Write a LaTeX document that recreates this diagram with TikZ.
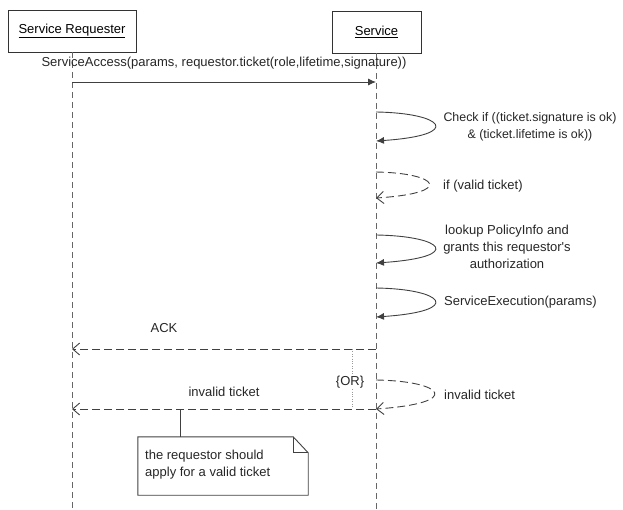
\documentclass[tikz,border=0pt]{standalone}
\usepackage{fontspec}
\setmainfont{Liberation Sans}
\newfontfamily\plainsans{Liberation Sans}[Ligatures=TeXOff]
\newcommand\straightquote{{\plainsans\char"27}}
\usetikzlibrary{arrows.meta}
\begin{document}
\begin{tikzpicture}[x=1pt,y=-1pt,
  font=\fontsize{13}{17}\selectfont,
  ln/.style={draw=black!75, line width=0.9pt},
  lifeline/.style={draw=black!60, line width=1pt, dash pattern=on 6pt off 4pt},
  head/.style={draw=black!80, line width=0.9pt, minimum height=42pt, inner sep=0pt},
  call/.style={ln, -{Latex[length=8pt,width=7pt]}},
  dcall/.style={ln, dash pattern=on 8pt off 4pt, -{Straight Barb[length=7pt,width=12pt]}},
  lbl/.style={inner sep=1pt, text=black!85},
  note/.style={draw=black!75, line width=0.9pt}
]
\useasboundingbox (0,0) rectangle (623,509);

% lifeline heads
\node[head, minimum width=128pt] (req) at (72,31) {\underline{Service Requester}};
\node[head, minimum width=89pt] (srv) at (376.5,32) {\underline{Service}};

% lifelines
\coordinate (reqEnd) at (72,509);
\coordinate (srvEnd) at (376,509);
\draw[lifeline] (72,0 |- req.south) -- (reqEnd);
\draw[lifeline] (376,0 |- srv.south) -- (srvEnd);

% points on the lifelines
\coordinate (r1) at (72,82);   \coordinate (s1) at (376,82);
\coordinate (a1) at (376,112); \coordinate (b1) at (376,141);
\coordinate (a2) at (376,172); \coordinate (b2) at (376,198);
\coordinate (a3) at (376,235); \coordinate (b3) at (376,263);
\coordinate (a4) at (376,288); \coordinate (b4) at (376,317);
\coordinate (s5) at (376,349); \coordinate (r5) at (72,349);
\coordinate (a6) at (376,380); \coordinate (b6) at (376,409);
\coordinate (r7) at (72,409);

% service request
\draw[call] (r1) -- (s1);
\node[lbl] (m1) at (224,63) {ServiceAccess(params, requestor.ticket(role,lifetime,signature))};

% self calls on the service
\draw[call] (a1) .. controls +(68,1) and +(88,-6) .. (b1);
\node[lbl, align=center, font=\fontsize{12.4}{17}\selectfont] (m2) at (530,127) {Check if ((ticket.signature is ok)\\ \& (ticket.lifetime is ok))};

\draw[dcall] (a2) .. controls +(62,1) and +(80,-5) .. (b2);
\node[lbl, anchor=west] (m3) at (442,186) {if (valid ticket)};

\draw[call] (a3) .. controls +(68,1) and +(88,-6) .. (b3);
\node[lbl, align=center] (m4) at (507,247) {lookup PolicyInfo and\\ grants this requestor\straightquote s\\ authorization};

\draw[call] (a4) .. controls +(68,1) and +(88,-6) .. (b4);
\node[lbl, anchor=west] (m5) at (443,302) {ServiceExecution(params)};

% reply
\draw[dcall] (s5) -- (r5);
\node[lbl] (m6) at (164,328) {ACK};

% alternative branch
\node[lbl] (or) at (350,382) {\{OR\}};
\coordinate (orTop) at (352,349);
\coordinate (orBot) at (352,408);
\draw[black!40, dotted] (orTop) -- (orTop |- or.north);
\draw[black!40, dotted] (orBot |- or.south) -- (orBot);

\draw[dcall] (a6) .. controls +(68,1) and +(88,-6) .. (b6);
\node[lbl, anchor=west] (m7) at (443,395) {invalid ticket};

\draw[dcall] (b6) -- (r7);
\node[lbl] (m8) at (224,392) {invalid ticket};

% note
\node[minimum width=170pt, minimum height=58pt, inner sep=0pt] (nt) at (223,466) {};
\node[anchor=north west, align=left, lbl, inner sep=0pt] (ntx) at (145,450) {the requestor should\\apply for a valid ticket};
\draw[note] (nt.north west) -- ([xshift=-15pt]nt.north east) -- ([yshift=-16pt]nt.north east) -- (nt.south east) -- (nt.south west) -- cycle;
\draw[note] ([xshift=-15pt]nt.north east) -- ([xshift=-15pt,yshift=-16pt]nt.north east) -- ([yshift=-16pt]nt.north east);
\coordinate (ntAnchor) at (180,409);
\draw[note] (ntAnchor) -- (ntAnchor |- nt.north);
\end{tikzpicture}
\end{document}
